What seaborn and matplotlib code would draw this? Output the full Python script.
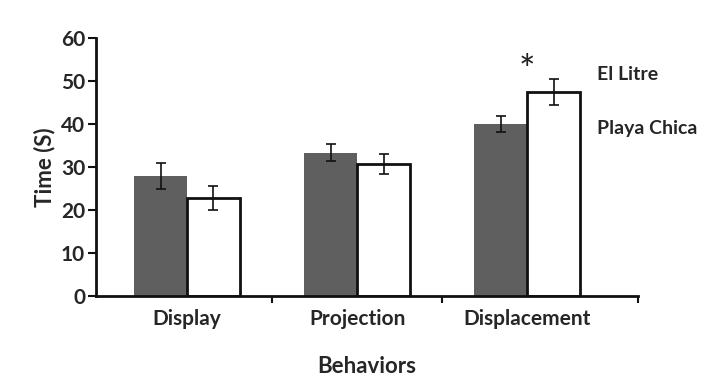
import pandas as pd
import matplotlib
matplotlib.use('Agg')
import matplotlib.pyplot as plt
import seaborn as sns

# dados
comportamentos = ['Display', 'Projection', 'Displacement']
sitios = ['El Litre', 'Playa Chica']
media_litre = [27.9, 33.3, 40.0]
media_playa = [22.8, 30.7, 47.4]
erro_litre = [3.0, 2.0, 1.9]
erro_playa = [2.9, 2.3, 3.0]
y_ticks = [0, 10, 20, 30, 40, 50, 60]

cinza = '#5f5f5f'
branco = '#FFFFFF'
preto = '#111111'

df = pd.DataFrame({
    'behavior': comportamentos * 2,
    'site': [sitios[0]] * 3 + [sitios[1]] * 3,
    'time': media_litre + media_playa,
})
erros = {sitios[0]: erro_litre, sitios[1]: erro_playa}

sns.set_theme(style='white')
plt.rcParams['font.family'] = ['Lato', 'DejaVu Sans']

fig = plt.figure(figsize=(7.07, 3.81), dpi=100)
ax = fig.add_axes([0.136, 0.223, 0.766, 0.677])

sns.barplot(data=df, x='behavior', y='time', hue='site', order=comportamentos,
            hue_order=sitios, palette=[cinza, branco], width=0.62, errorbar=None,
            legend=False, ax=ax, saturation=1)

# bordas e barras de erro
for container, sitio in zip(ax.containers, sitios):
    for barra, e in zip(container, erros[sitio]):
        if sitio == sitios[1]:
            barra.set_edgecolor(preto)
            barra.set_linewidth(2)
        else:
            barra.set_edgecolor(cinza)
            barra.set_linewidth(0)
        cx = barra.get_x() + barra.get_width() / 2
        ax.errorbar(cx, barra.get_height(), yerr=e, color=preto, lw=1.2,
                    capsize=3.5, capthick=1.2, zorder=5)

ax.set_xlim(-0.535, 2.65)
ax.set_ylim(0, 60)
ax.set_yticks(y_ticks)
ax.set_yticklabels([str(t) for t in y_ticks], fontsize=15, fontweight='bold')
ax.set_xticks([0.5, 1.5, 2.65], minor=True)
ax.set_xticks(range(3))
ax.set_xticklabels(comportamentos, fontsize=15, fontweight='bold')
ax.tick_params(axis='x', which='major', length=0, pad=9)
ax.tick_params(axis='x', which='minor', length=5, width=1.5, direction='out',
               bottom=True, color=preto)
ax.tick_params(axis='y', length=6, width=1.5, direction='out', left=True,
               color=preto, pad=2)

for lado in ['top', 'right']:
    ax.spines[lado].set_visible(False)
for lado in ['left', 'bottom']:
    ax.spines[lado].set_color(preto)
    ax.spines[lado].set_linewidth(2)

ax.set_ylabel('Time (S)', fontsize=16, fontweight='bold', labelpad=4)
ax.set_xlabel('Behaviors', fontsize=16, fontweight='bold', labelpad=20)

ax.text(2, 52.0, '*', fontsize=28, ha='center', va='center', color='#222222')

fig.text(0.845, 0.805, sitios[0], fontsize=14, fontweight='bold', va='center')
fig.text(0.845, 0.664, sitios[1], fontsize=14, fontweight='bold', va='center')

fig.savefig('out.png', dpi=100)
